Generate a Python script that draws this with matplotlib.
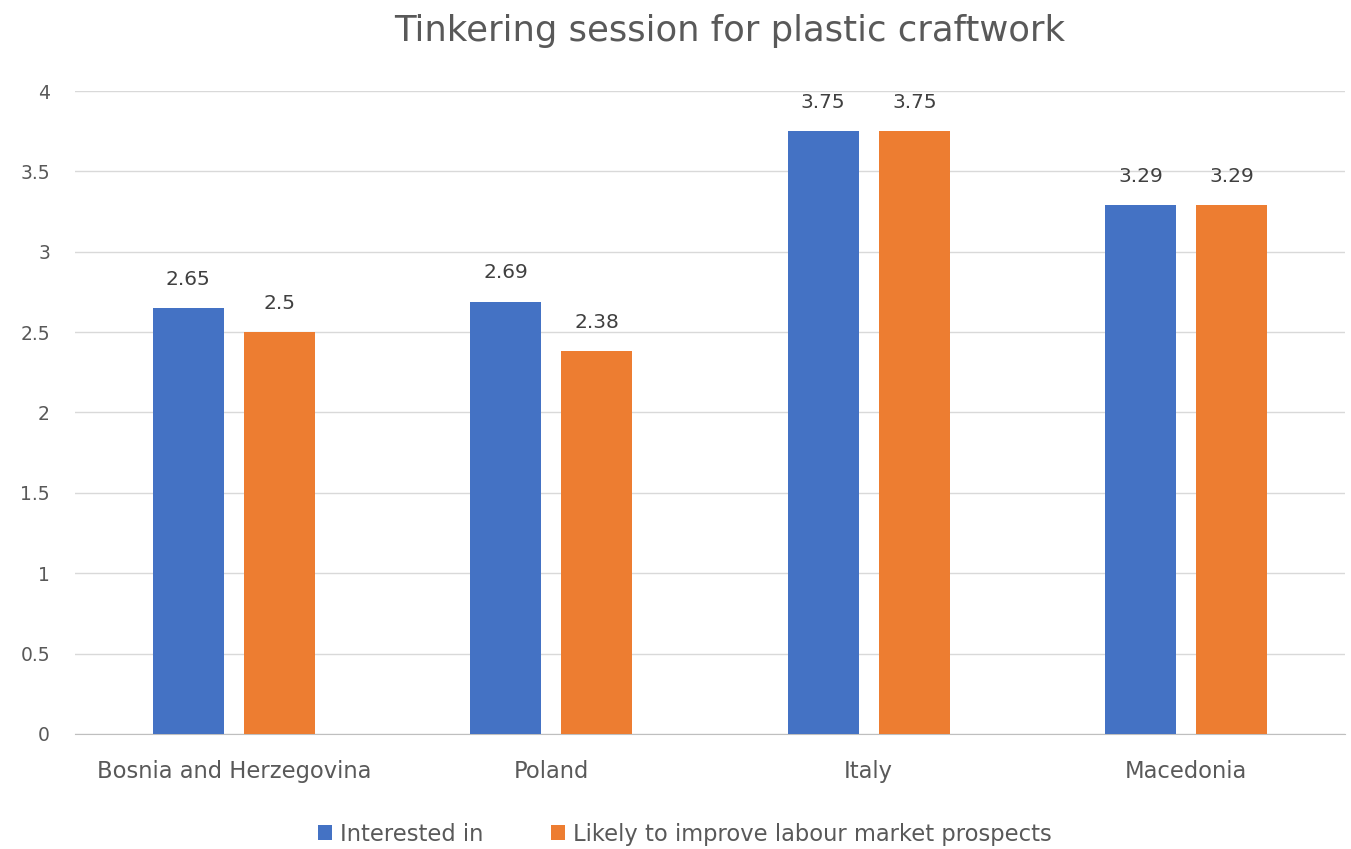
import numpy as np
import matplotlib.pyplot as plt

countries = ['Bosnia and Herzegovina', 'Poland', 'Italy', 'Macedonia']
interested = [2.65, 2.69, 3.75, 3.29]
likely = [2.5, 2.38, 3.75, 3.29]
series_names = ['Interested in', 'Likely to improve labour market prospects']
yticks = [0, 0.5, 1, 1.5, 2, 2.5, 3, 3.5, 4]
ytick_labels = ['0', '0.5', '1', '1.5', '2', '2.5', '3', '3.5', '4']

plt.rcParams['font.family'] = ['DejaVu Sans']
text_color = '#595959'

fig = plt.figure(figsize=(13.51, 8.49), dpi=100)
ax = fig.add_axes([0.0555, 0.1355, 0.94, 0.7573])

x = np.arange(len(countries))
width = 0.224
off = 0.1435
b1 = ax.bar(x - off, interested, width, color='#4472C4', label=series_names[0], zorder=3)
b2 = ax.bar(x + off, likely, width, color='#ED7D31', label=series_names[1], zorder=3)

# value labels above each bar
for bars, vals in [(b1, interested), (b2, likely)]:
    for rect, v in zip(bars, vals):
        ax.annotate(f'{v:g}', (rect.get_x() + rect.get_width() / 2, v),
                    xytext=(0, 14), textcoords='offset points',
                    ha='center', va='bottom', fontsize=14.5, color='#404040')

ax.set_xlim(-0.5, 3.5)
ax.set_ylim(0, 4)
ax.set_yticks(yticks)
ax.set_yticklabels(ytick_labels)
ax.set_xticks(x)
ax.set_xticklabels(countries)
ax.tick_params(axis='x', length=0, labelsize=16.3, colors=text_color, pad=19)
ax.tick_params(axis='y', length=0, labelsize=13.5, colors=text_color, pad=18)
ax.grid(axis='y', color='#d9d9d9', linewidth=1, zorder=0)
for s in ['top', 'right', 'left']:
    ax.spines[s].set_visible(False)
ax.spines['bottom'].set_color('#bfbfbf')

fig.suptitle('Tinkering session for plastic craftwork', x=0.54, y=0.983, fontsize=25.5, color=text_color)

fig.legend(handles=[b1, b2], loc='lower center', bbox_to_anchor=(0.507, -0.02), ncol=2,
           frameon=False, fontsize=16.3, labelcolor=text_color,
           handlelength=0.6, handleheight=0.6, handletextpad=0.35, columnspacing=3.0)

fig.savefig('out.png', dpi=100)
